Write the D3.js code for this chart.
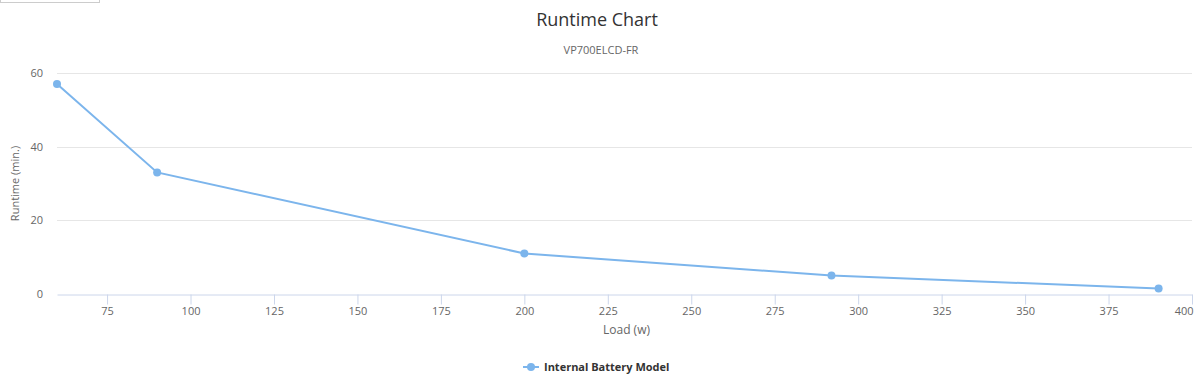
<!DOCTYPE html>
<html>
<head>
<meta charset="utf-8">
<script src="https://cdn.jsdelivr.net/npm/d3@7"></script>
<style>
  body { margin: 0; background: #fff; }
  svg { font-family: "Open Sans", "DejaVu Sans", sans-serif; }
</style>
</head>
<body>
<svg id="chart"></svg>
<script>
const loads = [60, 90, 200, 292, 390];
const runtimes = [57, 33, 11, 5, 1.5];
const xTicks = [75, 100, 125, 150, 175, 200, 225, 250, 275, 300, 325, 350, 375, 400];
const yTicks = [0, 20, 40, 60];
const seriesName = "Internal Battery Model";

const width = 1200, height = 376;
const margin = {top: 73, right: 8, bottom: 82, left: 57};

const svg = d3.select("#chart")
    .attr("width", width)
    .attr("height", height);

// leftover box at the top left
svg.append("rect")
    .attr("x", 0.5).attr("y", -2)
    .attr("width", 99).attr("height", 4.5)
    .attr("fill", "none")
    .attr("stroke", "#ccc");

const innerW = width - margin.left - margin.right;
const innerH = 221;

const x = d3.scaleLinear().domain([60, 400]).range([0, innerW]);
const y = d3.scaleLinear().domain([0, 60]).range([innerH, 0]);

const g = svg.append("g")
    .attr("transform", `translate(${margin.left},${margin.top})`);

// grid
g.append("g")
    .selectAll("line")
    .data(yTicks.filter(d => d > 0))
    .join("line")
    .attr("x1", 0).attr("x2", innerW)
    .attr("y1", d => Math.round(y(d)) + 0.5)
    .attr("y2", d => Math.round(y(d)) + 0.5)
    .attr("stroke", "#e6e6e6");

// y labels
g.append("g")
    .selectAll("text")
    .data(yTicks)
    .join("text")
    .attr("x", -14)
    .attr("y", d => y(d) + 4)
    .attr("text-anchor", "end")
    .attr("font-size", "11px")
    .attr("fill", "#666")
    .text(d => d);

// x axis
const xaxis = d3.axisBottom(x)
    .tickValues(xTicks)
    .tickSize(10)
    .tickSizeOuter(0)
    .tickPadding(3);

const xg = g.append("g")
    .attr("transform", `translate(0,${Math.round(innerH) + 0.5})`)
    .call(xaxis);
xg.select(".domain").attr("stroke", "#ccd6eb");
xg.selectAll(".tick line").attr("stroke", "#ccd6eb");
xg.selectAll(".tick text")
    .attr("fill", "#666")
    .attr("font-size", "11px")
    .attr("font-family", "Open Sans, DejaVu Sans, sans-serif");
// last label pulled inside the chart
xg.selectAll(".tick text")
    .filter(d => d === 400)
    .attr("text-anchor", "end")
    .attr("dx", "1px");

// axis titles
g.append("text")
    .attr("transform", `translate(${-38},${innerH / 2}) rotate(-90)`)
    .attr("text-anchor", "middle")
    .attr("font-size", "11px")
    .attr("fill", "#666")
    .text("Runtime (min.)");

g.append("text")
    .attr("x", innerW / 2 + 2)
    .attr("y", innerH + 40)
    .attr("text-anchor", "middle")
    .attr("font-size", "12px")
    .attr("fill", "#666")
    .text("Load (w)");

// title
svg.append("text")
    .attr("x", width / 2 - 3)
    .attr("y", 26)
    .attr("text-anchor", "middle")
    .attr("font-size", "18px")
    .attr("fill", "#333")
    .text("Runtime Chart");

svg.append("text")
    .attr("x", width / 2 + 1)
    .attr("y", 54)
    .attr("text-anchor", "middle")
    .attr("font-size", "11px")
    .attr("fill", "#666")
    .text("VP700ELCD-FR");

// series
const data = loads.map((d, i) => ({load: d, runtime: runtimes[i]}));
const color = "#7cb5ec";

g.append("path")
    .datum(data)
    .attr("fill", "none")
    .attr("stroke", color)
    .attr("stroke-width", 2)
    .attr("d", d3.line().x(d => x(d.load)).y(d => y(d.runtime)));

g.selectAll("circle.pt")
    .data(data)
    .join("circle")
    .attr("class", "pt")
    .attr("cx", d => x(d.load))
    .attr("cy", d => y(d.runtime))
    .attr("r", 4)
    .attr("fill", color);

// legend
const lg = svg.append("g").attr("transform", `translate(523,367)`);
lg.append("line")
    .attr("x1", 0).attr("x2", 16)
    .attr("y1", 0).attr("y2", 0)
    .attr("stroke", color)
    .attr("stroke-width", 2);
lg.append("circle")
    .attr("cx", 8).attr("cy", 0).attr("r", 4)
    .attr("fill", color);
lg.append("text")
    .attr("x", 21)
    .attr("y", 4)
    .attr("font-size", "11px")
    .attr("font-weight", "bold")
    .attr("fill", "#333")
    .text(seriesName);
</script>
</body>
</html>
